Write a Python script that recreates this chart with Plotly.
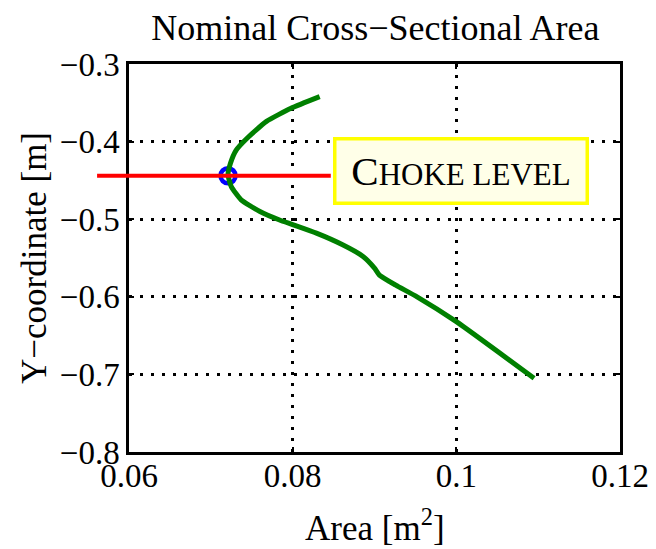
import plotly.graph_objects as go

# ---- data ----
area_m2 = [0.0833, 0.0798, 0.0768, 0.0744, 0.0731, 0.0724, 0.0721, 0.0725, 0.0737,
           0.0760, 0.0784, 0.0800, 0.0829, 0.0861, 0.0886, 0.0900, 0.0906, 0.0926,
           0.0952, 0.1000, 0.1095]
y_coord_m = [-0.342, -0.357, -0.374, -0.396, -0.411, -0.428, -0.443, -0.458, -0.475,
             -0.490, -0.501, -0.507, -0.518, -0.533, -0.548, -0.563, -0.572, -0.585,
             -0.600, -0.632, -0.705]
choke_level = -0.444
choke_area = 0.0721
x_ticks = [0.06, 0.08, 0.1, 0.12]
x_tick_labels = ["0.06", "0.08", "0.1", "0.12"]
y_ticks = [-0.3, -0.4, -0.5, -0.6, -0.7, -0.8]
y_tick_labels = ["\u22120.3", "\u22120.4", "\u22120.5", "\u22120.6", "\u22120.7", "\u22120.8"]

FONT = "Liberation Serif"

fig = go.Figure()
fig.add_trace(go.Scatter(x=[choke_area], y=[choke_level], mode="markers",
                         marker=dict(symbol="circle-open", size=15, color="blue",
                                     line=dict(width=4.5, color="blue")),
                         cliponaxis=False, showlegend=False))
fig.add_trace(go.Scatter(x=area_m2, y=y_coord_m, mode="lines",
                         line=dict(color="#008000", width=5, shape="spline", smoothing=0.5),
                         showlegend=False))

fig.add_shape(type="line", xref="paper", yref="y", x0=-0.065, x1=0.411,
              y0=choke_level, y1=choke_level, line=dict(color="red", width=4), layer="above")

fig.add_annotation(xref="paper", yref="paper", x=0.677, y=0.723, xanchor="center", yanchor="middle",
                   text="<span style='font-size:41px'>C</span>HOKE LEVEL",
                   showarrow=False, font=dict(family=FONT, size=31, color="black"),
                   bgcolor="#FFFFE8", bordercolor="#FFFF00", borderwidth=3.5,
                   borderpad=2, width=245, height=57, align="center", valign="middle")

# x-axis title
fig.add_annotation(xref="paper", yref="paper", x=0.5, y=-0.19, xanchor="center", yanchor="middle",
                   text="Area [m<sup>2</sup>]", showarrow=False,
                   font=dict(family=FONT, size=35, color="black"))

axis_common = dict(showline=True, linecolor="black", linewidth=2.5, mirror="ticks",
                   ticks="inside", ticklen=5, tickwidth=2, tickcolor="black",
                   showgrid=True, gridcolor="black", gridwidth=2.5, griddash="3px,8px",
                   zeroline=False, automargin=False,
                   tickfont=dict(family=FONT, size=33, color="black"))

fig.update_xaxes(range=[0.06, 0.12], tickvals=x_ticks, ticktext=x_tick_labels,
                 ticklabelstandoff=-7, **axis_common)
fig.update_yaxes(range=[-0.8, -0.3], tickvals=y_ticks, ticktext=y_tick_labels,
                 title=dict(text="Y\u2212coordinate [m]", font=dict(family=FONT, size=35, color="black"),
                            standoff=3),
                 **axis_common)

# page body adds an 8px offset, so the figure is laid out 8px smaller
fig.update_layout(
    width=648, height=541,
    margin=dict(l=121, r=36, t=56, b=97),
    paper_bgcolor="white", plot_bgcolor="white",
    title=dict(text="Nominal Cross\u2212Sectional Area", x=0.567, xanchor="center",
               y=1 - 19 / 541, yanchor="middle", yref="container",
               font=dict(family=FONT, size=36, color="black")),
)

fig.write_html("out.html")
